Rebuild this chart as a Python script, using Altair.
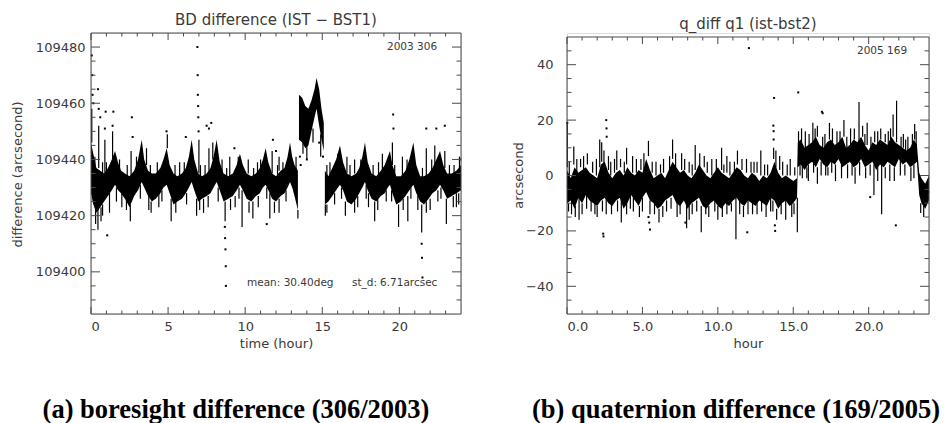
import altair as alt
import pandas as pd

FONT = "DejaVu Sans"
TXT = "#3a3a3a"
LINE = "#4a4a4a"

# ---------------- panel (a): BD difference ----------------
a_title = "BD difference (IST \u2212 BST1)"
a_xtitle = "time (hour)"
a_ytitle = "difference (arcsecond)"
a_caption = "(a) boresight difference (306/2003)"
a_stamp = "2003 306"
a_stats = ["mean: 30.40deg", "st_d:", "6.71arcsec"]

# dense band (hour, low edge, high edge), three pieces
a_band1 = [(0.0, 109428, 109446), (0.15, 109424, 109442), (0.35, 109421, 109437), (0.6, 109423, 109436),
           (0.85, 109425, 109435), (1.1, 109427, 109437), (1.35, 109429, 109440), (1.56, 109431, 109443),
           (1.75, 109429, 109439), (1.95, 109428, 109436), (2.2, 109426, 109435), (2.5, 109423, 109434),
           (2.8, 109427, 109436), (3.05, 109429, 109440), (3.29, 109432, 109447), (3.45, 109430, 109440),
           (3.7, 109427, 109436), (3.95, 109425, 109435), (4.2, 109426, 109435), (4.5, 109428, 109437),
           (4.7, 109430, 109440), (4.91, 109431, 109444), (5.1, 109428, 109438), (5.35, 109424, 109435),
           (5.6, 109425, 109434), (5.9, 109426, 109435), (6.15, 109428, 109437), (6.35, 109430, 109441),
           (6.53, 109432, 109447), (6.7, 109429, 109440), (6.95, 109425, 109435), (7.2, 109426, 109434),
           (7.5, 109427, 109435), (7.75, 109428, 109437), (7.95, 109430, 109441), (8.15, 109432, 109447),
           (8.35, 109429, 109439), (8.6, 109425, 109435), (8.9, 109426, 109434), (9.2, 109427, 109435),
           (9.45, 109429, 109438), (9.66, 109431, 109442), (9.85, 109429, 109438), (10.1, 109426, 109435),
           (10.4, 109425, 109434), (10.7, 109427, 109435), (10.95, 109428, 109437), (11.15, 109430, 109440),
           (11.33, 109431, 109444), (11.5, 109429, 109439), (11.75, 109426, 109435), (12.0, 109425, 109434),
           (12.3, 109427, 109436), (12.55, 109428, 109437), (12.75, 109430, 109441), (12.91, 109432, 109446),
           (13.05, 109430, 109441), (13.2, 109427, 109438), (13.42, 109422, 109436)]
a_band2 = [(13.49, 109447, 109463), (13.7, 109446, 109462), (13.9, 109444, 109459), (14.1, 109445, 109458),
           (14.3, 109450, 109461), (14.5, 109455, 109465), (14.63, 109458, 109469), (14.8, 109452, 109465),
           (14.95, 109447, 109458), (15.1, 109443, 109453)]
a_band3 = [(15.17, 109424, 109436), (15.4, 109425, 109434), (15.65, 109427, 109437), (15.9, 109429, 109440),
           (16.15, 109431, 109445), (16.35, 109429, 109439), (16.6, 109425, 109435), (16.9, 109424, 109434),
           (17.2, 109426, 109435), (17.4, 109428, 109437), (17.6, 109430, 109441), (17.77, 109432, 109446),
           (17.95, 109429, 109439), (18.2, 109426, 109435), (18.5, 109425, 109434), (18.8, 109427, 109436),
           (19.05, 109428, 109438), (19.25, 109430, 109441), (19.39, 109431, 109443), (19.55, 109428, 109438),
           (19.8, 109424, 109434), (20.1, 109425, 109434), (20.4, 109427, 109436), (20.65, 109429, 109440),
           (20.91, 109431, 109446), (21.1, 109428, 109438), (21.35, 109425, 109434), (21.6, 109424, 109434),
           (21.9, 109426, 109435), (22.15, 109428, 109437), (22.4, 109429, 109440), (22.64, 109431, 109443),
           (22.85, 109429, 109438), (23.1, 109426, 109435), (23.4, 109427, 109435), (23.7, 109428, 109436),
           (24.0, 109429, 109438)]
# thin vertical excursions (hour, from, to)
a_spikes = [(0.3, 109424, 109417), (0.45, 109423, 109415), (0.65, 109423, 109418), (1.2, 109428, 109421),
            (2.0, 109428, 109423), (2.55, 109424, 109418), (3.75, 109427, 109422), (5.2, 109426, 109418),
            (6.85, 109426, 109420), (7.3, 109426, 109421), (8.7, 109425, 109418), (9.8, 109429, 109416),
            (10.5, 109425, 109419), (11.6, 109428, 109419), (12.2, 109426, 109421), (13.42, 109422, 109419),
            (15.2, 109424, 109420), (16.5, 109425, 109420), (17.1, 109426, 109421), (18.4, 109425, 109418),
            (19.95, 109424, 109416), (20.55, 109427, 109418), (21.45, 109424, 109414), (22.0, 109426, 109422),
            (23.05, 109426, 109417), (23.7, 109428, 109423), (4.4, 109428, 109423), (9.35, 109427, 109423),
            (14.0, 109445, 109440), (14.9, 109449, 109441), (18.0, 109428, 109423), (21.2, 109427, 109422),
            (0.05, 109446, 109458), (0.5, 109437, 109452), (0.9, 109435, 109447), (1.4, 109440, 109450),
            (2.6, 109434, 109443), (3.6, 109438, 109444), (4.95, 109444, 109449), (7.0, 109435, 109447),
            (7.65, 109436, 109444), (7.9, 109440, 109446), (9.0, 109434, 109441), (10.2, 109435, 109440),
            (11.75, 109435, 109443), (12.2, 109436, 109441), (16.6, 109435, 109441), (17.1, 109435, 109440),
            (18.9, 109436, 109442), (19.55, 109438, 109446), (20.2, 109434, 109441), (21.75, 109434, 109444),
            (22.3, 109438, 109445), (22.95, 109437, 109443), (23.9, 109437, 109441), (5.75, 109434, 109439),
            (10.8, 109435, 109439), (15.5, 109434, 109439),
            (0.25, 109436, 109441), (0.75, 109434, 109439), (1.0, 109435, 109439), (1.85, 109436, 109440),
            (2.35, 109433, 109438), (2.95, 109437, 109441), (3.85, 109434, 109438), (4.3, 109434, 109439),
            (5.45, 109433, 109438), (6.05, 109435, 109439), (7.1, 109433, 109438), (7.4, 109434, 109438),
            (8.5, 109435, 109440), (8.8, 109433, 109437), (9.55, 109437, 109441), (10.55, 109433, 109437),
            (11.0, 109436, 109440), (12.1, 109433, 109438), (12.45, 109435, 109439), (13.3, 109436, 109441),
            (15.3, 109434, 109438), (16.0, 109438, 109442), (16.8, 109433, 109438), (17.5, 109436, 109440),
            (18.3, 109434, 109438), (18.65, 109434, 109439), (19.7, 109434, 109438), (20.5, 109436, 109440),
            (21.5, 109433, 109437), (22.1, 109435, 109440), (23.25, 109434, 109438), (23.55, 109434, 109438),
            (0.75, 109424, 109420), (1.65, 109430, 109425), (2.3, 109426, 109422), (3.2, 109431, 109426),
            (3.9, 109425, 109421), (4.6, 109429, 109425), (5.5, 109425, 109421), (6.2, 109428, 109424),
            (7.05, 109426, 109422), (7.6, 109427, 109423), (8.25, 109430, 109425), (9.05, 109426, 109422),
            (9.6, 109430, 109426), (10.25, 109425, 109421), (10.85, 109427, 109423), (11.4, 109430, 109426),
            (11.9, 109425, 109421), (12.65, 109429, 109425), (13.75, 109446, 109442), (14.4, 109451, 109446),
            (15.3, 109424, 109421), (15.8, 109428, 109424), (16.25, 109430, 109426), (17.3, 109427, 109423),
            (17.85, 109431, 109426), (18.6, 109426, 109422), (19.15, 109429, 109425), (19.5, 109429, 109425),
            (20.25, 109426, 109422), (20.75, 109430, 109426), (21.75, 109425, 109421), (22.5, 109429, 109425),
            (22.7, 109430, 109426), (23.5, 109427, 109423), (23.85, 109428, 109424)]
# isolated samples (hour, value)
a_dots = [(0.05, 109477), (0.08, 109470), (0.1, 109463), (0.15, 109460), (0.45, 109465), (0.5, 109458),
          (0.6, 109455), (0.9, 109451), (0.95, 109457), (1.05, 109413), (1.4, 109452), (1.45, 109457),
          (2.65, 109455), (2.7, 109448), (4.9, 109450), (6.15, 109448), (6.9, 109480), (6.92, 109470),
          (6.93, 109463), (6.95, 109459), (6.96, 109455), (6.98, 109450), (7.5, 109452), (7.65, 109451),
          (7.8, 109453), (8.68, 109416), (8.7, 109412), (8.72, 109408), (8.74, 109402), (8.75, 109395),
          (9.3, 109444), (11.4, 109417), (11.8, 109447), (12.0, 109443), (13.55, 109441), (13.6, 109438),
          (14.0, 109440), (14.8, 109446), (15.05, 109441), (19.6, 109456), (19.62, 109451), (21.45, 109410),
          (21.47, 109405), (21.5, 109398), (21.75, 109451), (22.4, 109451), (22.95, 109452), (23.95, 109440)]
a_y_major = [109400, 109420, 109440, 109460, 109480]
a_y_minor = [109390, 109395, 109405, 109410, 109415, 109425, 109430, 109435, 109445, 109450,
             109455, 109465, 109470, 109475]

# ---------------- panel (b): quaternion difference ----------------
b_title = "q_diff q1 (ist-bst2)"
b_xtitle = "hour"
b_ytitle = "arcsecond"
b_caption = "(b) quaternion difference (169/2005)"
b_stamp = "2005 169"

b_band = [(0.0, -10, 2), (0.25, -9, -1), (0.5, -12, 3), (0.75, -8, 1), (1.0, -10, 2), (1.25, -7, 3),
          (1.5, -9, 1), (1.75, -10, 0), (2.0, -11, -1), (2.25, -9, 4), (2.5, -8, 5), (2.75, -10, 1),
          (3.0, -11, -1), (3.25, -9, 1), (3.5, -8, 2), (3.75, -12, 0), (4.0, -10, 3), (4.25, -7, 1),
          (4.5, -9, 0), (4.75, -11, 2), (5.0, -8, 1), (5.25, -6, 6), (5.5, -9, 2), (5.75, -10, -1),
          (6.0, -12, 0), (6.25, -11, 1), (6.5, -9, -1), (6.75, -8, 2), (7.0, -7, 5), (7.25, -10, 3),
          (7.5, -11, 1), (7.75, -9, 2), (8.0, -12, 0), (8.25, -10, -1), (8.5, -9, 1), (8.75, -8, 4),
          (9.0, -11, 2), (9.25, -12, 0), (9.5, -10, -1), (9.75, -9, 1), (10.0, -11, 3), (10.25, -12, 1),
          (10.5, -10, 0), (10.75, -11, -1), (11.0, -9, 1), (11.25, -8, 3), (11.5, -10, 2), (11.75, -11, 0),
          (12.0, -9, -1), (12.25, -10, 1), (12.5, -11, 0), (12.75, -9, -2), (13.0, -10, 0), (13.25, -11, -1),
          (13.5, -8, 1), (13.75, -9, 5), (14.0, -12, 1), (14.25, -10, -1), (14.5, -9, 0), (14.75, -11, -1),
          (15.0, -10, -2), (15.25, -8, -1),
          (15.3, 3, 12), (15.5, 4, 13), (15.75, 2, 10), (16.0, 4, 11), (16.25, 5, 12), (16.5, 3, 14),
          (16.75, 6, 11), (17.0, 4, 10), (17.25, 3, 12), (17.5, 5, 13), (17.75, 4, 11), (18.0, 6, 12),
          (18.25, 3, 14), (18.5, 4, 10), (18.75, 5, 11), (19.0, 3, 13), (19.25, 4, 12), (19.5, 6, 14),
          (19.75, 3, 11), (20.0, 4, 9), (20.25, 5, 12), (20.5, 2, 11), (20.75, 4, 13), (21.0, 3, 12),
          (21.25, 5, 11), (21.5, 4, 14), (21.75, 3, 12), (22.0, 6, 11), (22.25, 4, 10), (22.5, 5, 9),
          (22.75, 3, 10), (23.0, 4, 13), (23.2, 5, 11),
          (23.35, -7, 1), (23.5, -10, -1), (23.75, -12, -3), (24.0, -9, 0)]
b_spikes = [(0.02, 3, 19), (0.45, 4, 10.5), (0.9, 3, 6), (1.35, 4, 8), (1.7, 1, 5), (2.17, 3, 13),
            (2.3, 5, 12), (2.75, 2, 7), (3.3, 2, 9), (3.55, 3, 6), (3.95, 4, 10), (4.6, 1, 6), (5.1, 2, 8),
            (5.4, 7, 12.5), (5.9, 0, 5), (6.4, 1, 6), (7.0, 6, 13), (7.6, 2, 8), (8.1, 1, 5), (8.5, 2, 11),
            (9.1, 3, 7), (9.6, 0, 6), (10.25, 2, 10), (10.8, 0, 5), (11.3, 4, 9), (11.9, 1, 6), (12.6, 1, 5),
            (12.85, 0, 9), (13.3, 0, 4), (13.7, 6, 10), (14.1, 2, 7), (14.8, 0, 6),
            (0.15, 0, 5), (0.65, 1, 6), (1.1, 2, 7), (1.95, 0, 6), (2.45, 3, 9), (2.9, 0, 5), (3.15, 1, 6),
            (3.8, 1, 5), (4.35, 1, 7), (4.9, 2, 6), (5.65, 1, 5), (6.2, 1, 4), (6.8, 2, 7), (7.2, 3, 8),
            (7.8, 2, 6), (8.3, 0, 4), (8.8, 3, 8), (9.3, 1, 5), (9.9, 1, 6), (10.4, 1, 4), (10.6, 1, 7),
            (11.1, 1, 5), (11.6, 2, 6), (12.2, 1, 5), (12.4, 1, 5), (13.1, 0, 4), (13.85, 3, 9),
            (14.3, 0, 5), (14.6, 0, 4), (15.1, 0, 3),
            (15.35, 12, 16), (15.8, 10, 16), (16.3, 12, 19), (16.6, 14, 18), (17.1, 10, 15), (17.4, 13, 19),
            (17.9, 11, 16), (18.36, 14, 20), (18.8, 11, 17), (19.36, 12, 26.5), (19.6, 14, 18), (19.9, 11, 19),
            (20.4, 12, 16), (20.8, 13, 17), (21.3, 11, 16), (21.62, 14, 22), (21.85, 12, 27), (22.3, 10, 15),
            (22.6, 9, 14), (23.05, 13, 18.6),
            (15.55, 12, 17), (16.05, 11, 15), (16.45, 13, 17), (16.95, 10, 14), (17.6, 12, 17), (18.1, 12, 16),
            (18.55, 10, 14), (19.05, 13, 17), (19.75, 11, 15), (20.15, 10, 14), (20.6, 11, 16), (21.1, 12, 15),
            (21.45, 13, 17), (22.15, 10, 14), (22.45, 9, 13), (22.9, 11, 15), (23.15, 11, 16),
            (0.3, -9, -14), (0.8, -8, -16), (1.6, -9, -13), (2.0, -11, -15), (2.6, -8, -14), (3.6, -8, -17),
            (4.2, -7, -12), (4.8, -11, -15), (5.5, -9, -14), (6.1, -12, -17), (6.6, -9, -13), (7.3, -10, -15),
            (7.93, -9, -19), (8.3, -10, -14), (8.9, -11, -20.5), (9.4, -11, -15), (10.0, -11, -16),
            (10.6, -10, -14), (11.2, -8, -23), (11.7, -11, -15), (12.3, -10, -14), (12.9, -9, -13),
            (13.5, -8, -13), (13.9, -12, -16), (14.5, -9, -16), (15.05, -10, -14), (15.27, -8, -20.5),
            (0.1, -10, -13), (0.55, -11, -15), (1.0, -10, -14), (1.3, -7, -12), (1.85, -10, -14),
            (2.35, -9, -13), (2.95, -10, -14), (3.35, -9, -13), (3.95, -10, -14), (4.4, -8, -13),
            (5.0, -8, -13), (5.8, -10, -14), (6.35, -11, -15), (6.9, -8, -12), (7.5, -10, -14),
            (8.1, -11, -16), (8.6, -9, -13), (9.2, -11, -14), (9.8, -9, -13), (10.3, -11, -15),
            (10.9, -10, -13), (11.45, -9, -14), (12.0, -9, -14), (12.6, -10, -14), (13.2, -10, -15),
            (13.65, -9, -13), (14.2, -10, -14), (14.9, -10, -15),
            (15.6, 4, -1), (16.0, 4, -2), (16.6, 3, -3), (17.3, 3, 0), (17.8, 4, -2), (18.6, 4, -1),
            (19.1, 3, -3), (19.8, 3, -1), (20.35, 4, -7), (20.86, 4, -14), (21.4, 4, -2), (22.1, 6, 0),
            (22.8, 3, -2), (23.45, -10, -13.5), (23.65, -11, -15),
            (15.45, 4, 0), (15.9, 3, -1), (16.35, 5, 1), (16.85, 5, 0), (17.15, 4, 0), (17.55, 5, 1),
            (18.2, 4, -1), (18.9, 4, 0), (19.4, 5, 0), (20.1, 4, 0), (20.6, 3, -2), (21.1, 3, -1),
            (21.7, 3, -2), (22.4, 4, 0), (23.0, 4, -1)]
b_dots = [(0.02, 19), (2.6, 20), (2.62, 17), (2.63, 14), (2.4, -21), (2.42, -22), (5.4, -15), (5.45, -17),
          (5.5, -19.5), (7.85, -17), (12.06, 46), (11.95, -20.5), (13.73, 28), (13.68, 18), (13.7, 16),
          (13.7, 13), (13.78, -18), (13.8, -20), (15.33, 30), (16.9, 23), (16.95, 22.5), (20.1, -7.8),
          (21.8, -18), (23.95, -6)]
b_y_major = [-40, -20, 0, 20, 40]
b_y_minor = [-45, -35, -30, -25, -15, -10, -5, 5, 10, 15, 25, 30, 35, 45]

hour_major = [0, 5, 10, 15, 20]
hour_minor = [1, 2, 3, 4, 6, 7, 8, 9, 11, 12, 13, 14, 16, 17, 18, 19, 21, 22, 23]


def band_frame(pieces):
    rows = []
    for k, piece in enumerate(pieces):
        for h, lo, hi in piece:
            rows.append({"hour": h, "lo": lo, "hi": hi, "seg": k})
    return pd.DataFrame(rows)


def text_layer(label, x, y, size, align="left", baseline="middle", font=FONT, weight="normal", color=TXT):
    return alt.Chart(pd.DataFrame({"label": [label]})).mark_text(
        font=font, fontSize=size, fontWeight=weight, color=color, align=align, baseline=baseline
    ).encode(x=alt.value(x), y=alt.value(y), text="label:N")


def panel(W, H, top_px, ydom, bands, spikes, dots, y_major, y_minor, x_fmt, y_fmt,
          ylab_pad, ytitle, ytitle_x, ytitle_y, xtitle, title, title_off, texts):
    xs = alt.Scale(domain=[0, 24], nice=False, zero=False)
    ys = alt.Scale(domain=ydom, nice=False, zero=False)
    xa = alt.Axis(values=hour_major, format=x_fmt, ticks=False, tickSize=0, domain=False, grid=False,
                  labelFont=FONT, labelFontSize=13, labelColor=TXT, labelPadding=6,
                  title=xtitle, titleFont=FONT, titleFontSize=13, titleFontWeight="normal",
                  titleColor=TXT, titleY=29, titleBaseline="middle")
    ya = alt.Axis(values=y_major, format=y_fmt, ticks=False, tickSize=0, domain=False, grid=False,
                  labelFont=FONT, labelFontSize=13, labelColor=TXT, labelPadding=ylab_pad,
                  title=ytitle, titleFont=FONT, titleFontSize=13, titleFontWeight="normal",
                  titleColor=TXT, titleX=ytitle_x, titleY=ytitle_y, titleBaseline="middle",
                  titleAngle=270, titleAlign="center")
    X = alt.X("hour:Q", scale=xs, axis=xa)

    band_df = band_frame(bands)
    spike_df = pd.DataFrame(spikes, columns=["hour", "y1", "y2"])
    dot_df = pd.DataFrame(dots, columns=["hour", "val"])

    layers = [
        alt.Chart(band_df).mark_area(color="black", interpolate="linear", opacity=1).encode(
            x=X, y=alt.Y("lo:Q", scale=ys, axis=ya), y2="hi:Q", detail="seg:N"),
        alt.Chart(spike_df).mark_rule(color="black", strokeWidth=1.2).encode(
            x=X, y=alt.Y("y1:Q", scale=ys, axis=ya), y2="y2:Q"),
        alt.Chart(dot_df).mark_square(color="black", size=4, opacity=1).encode(
            x=X, y=alt.Y("val:Q", scale=ys, axis=ya)),
    ]
    one = pd.DataFrame({"k": [0]})
    # frame
    layers += [
        alt.Chart(one).mark_rule(color=LINE, strokeWidth=1).encode(
            x=alt.value(0), x2=alt.value(W), y=alt.value(top_px)),
        alt.Chart(one).mark_rule(color=LINE, strokeWidth=1).encode(
            x=alt.value(0), x2=alt.value(W), y=alt.value(H)),
        alt.Chart(one).mark_rule(color=LINE, strokeWidth=1).encode(
            x=alt.value(0), y=alt.value(top_px), y2=alt.value(H)),
        alt.Chart(one).mark_rule(color=LINE, strokeWidth=1).encode(
            x=alt.value(W), y=alt.value(top_px), y2=alt.value(H)),
    ]
    # ticks, pointing inwards, on all four sides
    for vals, ln in ((hour_major, 7), (hour_minor, 3.5)):
        d = pd.DataFrame({"hour": vals})
        layers.append(alt.Chart(d).mark_rule(color=LINE, strokeWidth=1).encode(
            x=X, y=alt.value(H), y2=alt.value(H - ln)))
        layers.append(alt.Chart(d).mark_rule(color=LINE, strokeWidth=1).encode(
            x=X, y=alt.value(top_px), y2=alt.value(top_px + ln)))
    for vals, ln in ((y_major, 9), (y_minor, 4.5)):
        d = pd.DataFrame({"v": vals})
        Y = alt.Y("v:Q", scale=ys, axis=ya)
        layers.append(alt.Chart(d).mark_rule(color=LINE, strokeWidth=1).encode(
            y=Y, x=alt.value(0), x2=alt.value(ln)))
        layers.append(alt.Chart(d).mark_rule(color=LINE, strokeWidth=1).encode(
            y=Y, x=alt.value(W), x2=alt.value(W - ln)))
    layers += texts
    return alt.layer(*layers).properties(
        width=W, height=H,
        title=alt.TitleParams(title, font=FONT, fontSize=15, fontWeight="normal", color=TXT,
                              offset=title_off, anchor="middle"))


WA, WB, H = 370, 362, 281
B_TOP = 4  # frame of panel (b) starts 4 px lower
b_top_val = 50 + B_TOP * 100 / (H - B_TOP)

left = panel(
    WA, H, 0, [109385, 109485], [a_band1, a_band2, a_band3], a_spikes, a_dots, a_y_major, a_y_minor,
    "d", "d", 6, a_ytitle, -74, 141, a_xtitle, a_title, 5,
    [text_layer(a_stamp, 296, 14, 10.5),
     text_layer(a_stats[0], 156, 250, 10.5),
     text_layer(a_stats[1], 261, 250, 10.5),
     text_layer(a_stats[2], 289, 250, 10.5),
     text_layer(a_caption, 145, 385, 26.5, align="center", baseline="alphabetic",
                font="Liberation Serif", weight="bold", color="black")])

right = panel(
    WB, H, B_TOP, [-50, b_top_val], [b_band], b_spikes, b_dots, b_y_major, b_y_minor,
    ".1f", "d", 14, b_ytitle, -49, 142, b_xtitle, b_title, 1,
    [text_layer(b_stamp, 290, 18, 10.5),
     text_layer(b_caption, 169, 385, 26.5, align="center", baseline="alphabetic",
                font="Liberation Serif", weight="bold", color="black")])

chart = alt.hconcat(left, right, spacing=106, bounds="flush").properties(
    padding={"left": 10, "top": 12, "right": 0, "bottom": 0}
).configure_view(stroke=None).configure(background="white")

chart.save("out.html", embed_options={"renderer": "svg", "actions": False})
